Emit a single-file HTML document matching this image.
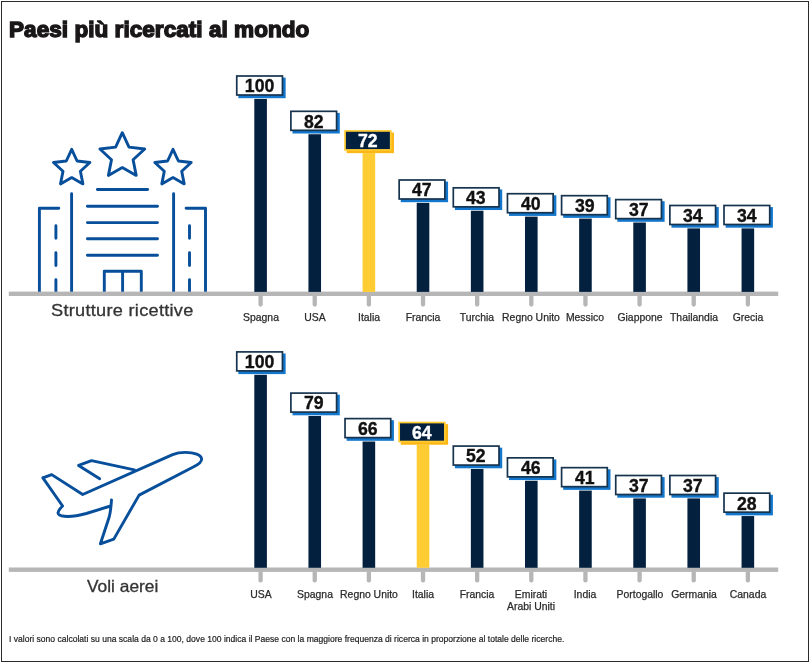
<!DOCTYPE html>
<html lang="it"><head><meta charset="utf-8"><title>Paesi più ricercati al mondo</title>
<style>
html,body{margin:0;padding:0;background:#fff}
body{width:810px;height:663px;position:relative;overflow:hidden;font-family:"Liberation Sans", sans-serif;}
.frame{position:absolute;left:1px;top:1px;width:806px;height:659px;border:1px solid #2b2b2b}
h1{position:absolute;left:8.8px;top:16.9px;margin:0;font-size:22px;line-height:26px;transform:scaleX(1.024);font-weight:bold;color:#1a1718;white-space:nowrap;-webkit-text-stroke:1.4px #1a1718;letter-spacing:0.04px;transform-origin:0 0}
.box{position:absolute;box-sizing:border-box;width:47.3px;height:20.6px;border:1.5px solid transparent;text-align:center;color:#111;font-weight:bold;font-size:17.5px;line-height:17.6px;-webkit-text-stroke:0.35px}
.box span{display:inline-block;transform:scaleX(1.01);position:relative;top:2.2px}
.box.hl{color:#fff}
.lab{position:absolute;width:80px;text-align:center;font-size:10.1px;line-height:11.85px;color:#2b2b2b;white-space:nowrap;transform:scaleX(1.03);-webkit-text-stroke:0.25px #2b2b2b}
.cat{position:absolute;font-size:16.5px;line-height:18px;color:#333;white-space:nowrap;transform-origin:0 0;-webkit-text-stroke:0.3px #333}
.note{position:absolute;left:9px;top:633.9px;font-size:9.1px;transform:scaleX(0.9405);-webkit-text-stroke:0.2px #222;line-height:11px;color:#222;white-space:nowrap;transform-origin:0 0}
.ico{position:absolute;overflow:visible}
</style></head><body>
<div class="frame"></div>
<h1>Paesi più ricercati al mondo</h1>
<svg class="ico" style="left:0;top:0" width="810" height="663" viewBox="0 0 810 663" fill="none" stroke="#074e9b" stroke-width="2.9" stroke-linejoin="round" stroke-linecap="round">
<path d="M71.7,149.3 L77.1,161.0 L89.9,162.5 L80.4,171.2 L82.9,183.9 L71.7,177.6 L60.5,183.9 L63.0,171.2 L53.5,162.5 L66.3,161.0Z"/>
<path d="M122.3,132.7 L129.0,147.1 L144.7,149.0 L133.1,159.8 L136.2,175.4 L122.3,167.6 L108.4,175.4 L111.5,159.8 L99.9,149.0 L115.6,147.1Z"/>
<path d="M173.0,149.3 L178.4,161.0 L191.2,162.5 L181.7,171.2 L184.2,183.9 L173.0,177.6 L161.8,183.9 L164.3,171.2 L154.8,162.5 L167.6,161.0Z"/>
<path d="M97.4,189.5H147.6"/>
<path d="M87.4,206.2H157.5M87.4,222.6H157.5M87.4,238.8H157.5M87.4,255.3H157.5"/>
<path d="M71.6,193.8V292M173.6,193.8V292"/>
<path d="M39.4,292V208.3H58.8M205.5,292V208.3H186.1"/>
<path d="M55.9,225.7V238.2M55.9,252.7V265.5M55.9,279.6V292M189.5,225.7V238.2M189.5,252.7V265.5M189.5,279.6V292"/>
<path d="M104.3,292V271.3H141.3V292M122.6,271.3V292"/>
</svg>
<svg class="ico" style="left:0;top:0" width="810" height="663" viewBox="0 0 810 663" fill="none" stroke="#074e9b" stroke-width="2.9" stroke-linejoin="round" stroke-linecap="round">
<path d="M42.9,477.8 L51.7,474.6 L82.7,494.5 L172.6,454.7 C177,452.8 181,452.4 185.4,452.4 C194,452.4 201.6,454.5 201.6,459.2 C201.6,462.5 198,464.6 193.7,466.8 L139.1,495.1 L113.8,539.1 L100.4,543.8 L109.2,517 Q110.8,511 111.5,499.9 M110.6,506 L86.3,513.5 C78,515.8 70,516.8 64.5,516.3 C60,515.8 57.8,514.5 58.1,512.6 C58.3,510.5 60,508.5 62.6,506 L42.9,477.8"/>
<path d="M134.4,469.8 L91.5,460.7 L78.6,465.4 L99.7,478.7"/>
</svg>
<svg class="ico" style="left:0;top:0" width="810" height="663" viewBox="0 0 810 663"><rect x="8.8" y="291.6" width="769.4" height="4.4" fill="#b6b6b6"/>
<rect x="254.30" y="98.90" width="12.6" height="193.00" fill="#03213f"/>
<path d="M258.45,295.6v8.9a2.15,2.15 0 0 0 4.3,0v-8.9z" fill="#b6b6b6"/>
<rect x="238.35" y="77.60" width="47.3" height="20.6" fill="#1377cd"/>
<rect x="236.75" y="76.00" width="45.699999999999996" height="19.0" fill="#fff" stroke="#17344f" stroke-width="1.7"/>
<rect x="308.44" y="134.22" width="12.6" height="157.68" fill="#03213f"/>
<path d="M312.59,295.6v8.9a2.15,2.15 0 0 0 4.3,0v-8.9z" fill="#b6b6b6"/>
<rect x="292.49" y="112.92" width="47.3" height="20.6" fill="#1377cd"/>
<rect x="290.89" y="111.32" width="45.699999999999996" height="19.0" fill="#fff" stroke="#17344f" stroke-width="1.7"/>
<rect x="362.58" y="153.14" width="12.6" height="138.76" fill="#ffcc33"/>
<path d="M366.73,295.6v8.9a2.15,2.15 0 0 0 4.3,0v-8.9z" fill="#b6b6b6"/>
<rect x="346.63" y="132.54" width="47.3" height="20.6" fill="#fdb714"/>
<rect x="345.03" y="130.94" width="45.699999999999996" height="19.0" fill="#03213f" stroke="#ffcc33" stroke-width="1.7"/>
<rect x="416.72" y="202.89" width="12.6" height="89.01" fill="#03213f"/>
<path d="M420.87,295.6v8.9a2.15,2.15 0 0 0 4.3,0v-8.9z" fill="#b6b6b6"/>
<rect x="400.77" y="181.59" width="47.3" height="20.6" fill="#1377cd"/>
<rect x="399.17" y="179.99" width="45.699999999999996" height="19.0" fill="#fff" stroke="#17344f" stroke-width="1.7"/>
<rect x="470.86" y="210.73" width="12.6" height="81.17" fill="#03213f"/>
<path d="M475.01,295.6v8.9a2.15,2.15 0 0 0 4.3,0v-8.9z" fill="#b6b6b6"/>
<rect x="454.91" y="189.43" width="47.3" height="20.6" fill="#1377cd"/>
<rect x="453.31" y="187.83" width="45.699999999999996" height="19.0" fill="#fff" stroke="#17344f" stroke-width="1.7"/>
<rect x="525.00" y="216.62" width="12.6" height="75.28" fill="#03213f"/>
<path d="M529.15,295.6v8.9a2.15,2.15 0 0 0 4.3,0v-8.9z" fill="#b6b6b6"/>
<rect x="509.05" y="195.32" width="47.3" height="20.6" fill="#1377cd"/>
<rect x="507.45" y="193.72" width="45.699999999999996" height="19.0" fill="#fff" stroke="#17344f" stroke-width="1.7"/>
<rect x="579.14" y="218.58" width="12.6" height="73.32" fill="#03213f"/>
<path d="M583.29,295.6v8.9a2.15,2.15 0 0 0 4.3,0v-8.9z" fill="#b6b6b6"/>
<rect x="563.19" y="197.28" width="47.3" height="20.6" fill="#1377cd"/>
<rect x="561.59" y="195.68" width="45.699999999999996" height="19.0" fill="#fff" stroke="#17344f" stroke-width="1.7"/>
<rect x="633.28" y="222.51" width="12.6" height="69.39" fill="#03213f"/>
<path d="M637.43,295.6v8.9a2.15,2.15 0 0 0 4.3,0v-8.9z" fill="#b6b6b6"/>
<rect x="617.33" y="201.21" width="47.3" height="20.6" fill="#1377cd"/>
<rect x="615.73" y="199.61" width="45.699999999999996" height="19.0" fill="#fff" stroke="#17344f" stroke-width="1.7"/>
<rect x="687.42" y="228.39" width="12.6" height="63.51" fill="#03213f"/>
<path d="M691.57,295.6v8.9a2.15,2.15 0 0 0 4.3,0v-8.9z" fill="#b6b6b6"/>
<rect x="671.47" y="207.09" width="47.3" height="20.6" fill="#1377cd"/>
<rect x="669.87" y="205.49" width="45.699999999999996" height="19.0" fill="#fff" stroke="#17344f" stroke-width="1.7"/>
<rect x="741.56" y="228.39" width="12.6" height="63.51" fill="#03213f"/>
<path d="M745.71,295.6v8.9a2.15,2.15 0 0 0 4.3,0v-8.9z" fill="#b6b6b6"/>
<rect x="725.61" y="207.09" width="47.3" height="20.6" fill="#1377cd"/>
<rect x="724.01" y="205.49" width="45.699999999999996" height="19.0" fill="#fff" stroke="#17344f" stroke-width="1.7"/></svg>
<div class="box " style="left:235.95px;top:75.20px"><span>100</span></div>
<div class="lab" style="left:220.60px;top:312.2px">Spagna</div>
<div class="box " style="left:290.09px;top:110.52px"><span>82</span></div>
<div class="lab" style="left:274.74px;top:312.2px">USA</div>
<div class="box hl" style="left:344.23px;top:130.14px"><span>72</span></div>
<div class="lab" style="left:328.88px;top:312.2px">Italia</div>
<div class="box " style="left:398.37px;top:179.19px"><span>47</span></div>
<div class="lab" style="left:383.02px;top:312.2px">Francia</div>
<div class="box " style="left:452.51px;top:187.03px"><span>43</span></div>
<div class="lab" style="left:437.16px;top:312.2px">Turchia</div>
<div class="box " style="left:506.65px;top:192.92px"><span>40</span></div>
<div class="lab" style="left:491.30px;top:312.2px">Regno Unito</div>
<div class="box " style="left:560.79px;top:194.88px"><span>39</span></div>
<div class="lab" style="left:545.44px;top:312.2px">Messico</div>
<div class="box " style="left:614.93px;top:198.81px"><span>37</span></div>
<div class="lab" style="left:599.58px;top:312.2px">Giappone</div>
<div class="box " style="left:669.07px;top:204.69px"><span>34</span></div>
<div class="lab" style="left:653.72px;top:312.2px">Thailandia</div>
<div class="box " style="left:723.21px;top:204.69px"><span>34</span></div>
<div class="lab" style="left:707.86px;top:312.2px">Grecia</div>
<div class="cat" id="cat1" style="left:51px;top:300.5px;letter-spacing:0.26px;transform:scaleX(1.1)">Strutture ricettive</div>
<svg class="ico" style="left:0;top:0" width="810" height="663" viewBox="0 0 810 663"><rect x="8.8" y="567.5" width="769.4" height="4.4" fill="#b6b6b6"/>
<rect x="254.30" y="374.80" width="12.6" height="193.00" fill="#03213f"/>
<path d="M258.45,571.5v8.9a2.15,2.15 0 0 0 4.3,0v-8.9z" fill="#b6b6b6"/>
<rect x="238.35" y="353.50" width="47.3" height="20.6" fill="#1377cd"/>
<rect x="236.75" y="351.90" width="45.699999999999996" height="19.0" fill="#fff" stroke="#17344f" stroke-width="1.7"/>
<rect x="308.44" y="416.00" width="12.6" height="151.80" fill="#03213f"/>
<path d="M312.59,571.5v8.9a2.15,2.15 0 0 0 4.3,0v-8.9z" fill="#b6b6b6"/>
<rect x="292.49" y="394.70" width="47.3" height="20.6" fill="#1377cd"/>
<rect x="290.89" y="393.10" width="45.699999999999996" height="19.0" fill="#fff" stroke="#17344f" stroke-width="1.7"/>
<rect x="362.58" y="441.51" width="12.6" height="126.29" fill="#03213f"/>
<path d="M366.73,571.5v8.9a2.15,2.15 0 0 0 4.3,0v-8.9z" fill="#b6b6b6"/>
<rect x="346.63" y="420.21" width="47.3" height="20.6" fill="#1377cd"/>
<rect x="345.03" y="418.61" width="45.699999999999996" height="19.0" fill="#fff" stroke="#17344f" stroke-width="1.7"/>
<rect x="416.72" y="444.73" width="12.6" height="123.07" fill="#ffcc33"/>
<path d="M420.87,571.5v8.9a2.15,2.15 0 0 0 4.3,0v-8.9z" fill="#b6b6b6"/>
<rect x="400.77" y="424.13" width="47.3" height="20.6" fill="#fdb714"/>
<rect x="399.17" y="422.53" width="45.699999999999996" height="19.0" fill="#03213f" stroke="#ffcc33" stroke-width="1.7"/>
<rect x="470.86" y="468.98" width="12.6" height="98.82" fill="#03213f"/>
<path d="M475.01,571.5v8.9a2.15,2.15 0 0 0 4.3,0v-8.9z" fill="#b6b6b6"/>
<rect x="454.91" y="447.68" width="47.3" height="20.6" fill="#1377cd"/>
<rect x="453.31" y="446.08" width="45.699999999999996" height="19.0" fill="#fff" stroke="#17344f" stroke-width="1.7"/>
<rect x="525.00" y="480.75" width="12.6" height="87.05" fill="#03213f"/>
<path d="M529.15,571.5v8.9a2.15,2.15 0 0 0 4.3,0v-8.9z" fill="#b6b6b6"/>
<rect x="509.05" y="459.45" width="47.3" height="20.6" fill="#1377cd"/>
<rect x="507.45" y="457.85" width="45.699999999999996" height="19.0" fill="#fff" stroke="#17344f" stroke-width="1.7"/>
<rect x="579.14" y="490.56" width="12.6" height="77.24" fill="#03213f"/>
<path d="M583.29,571.5v8.9a2.15,2.15 0 0 0 4.3,0v-8.9z" fill="#b6b6b6"/>
<rect x="563.19" y="469.26" width="47.3" height="20.6" fill="#1377cd"/>
<rect x="561.59" y="467.66" width="45.699999999999996" height="19.0" fill="#fff" stroke="#17344f" stroke-width="1.7"/>
<rect x="633.28" y="498.41" width="12.6" height="69.39" fill="#03213f"/>
<path d="M637.43,571.5v8.9a2.15,2.15 0 0 0 4.3,0v-8.9z" fill="#b6b6b6"/>
<rect x="617.33" y="477.11" width="47.3" height="20.6" fill="#1377cd"/>
<rect x="615.73" y="475.51" width="45.699999999999996" height="19.0" fill="#fff" stroke="#17344f" stroke-width="1.7"/>
<rect x="687.42" y="498.41" width="12.6" height="69.39" fill="#03213f"/>
<path d="M691.57,571.5v8.9a2.15,2.15 0 0 0 4.3,0v-8.9z" fill="#b6b6b6"/>
<rect x="671.47" y="477.11" width="47.3" height="20.6" fill="#1377cd"/>
<rect x="669.87" y="475.51" width="45.699999999999996" height="19.0" fill="#fff" stroke="#17344f" stroke-width="1.7"/>
<rect x="741.56" y="516.06" width="12.6" height="51.74" fill="#03213f"/>
<path d="M745.71,571.5v8.9a2.15,2.15 0 0 0 4.3,0v-8.9z" fill="#b6b6b6"/>
<rect x="725.61" y="494.76" width="47.3" height="20.6" fill="#1377cd"/>
<rect x="724.01" y="493.16" width="45.699999999999996" height="19.0" fill="#fff" stroke="#17344f" stroke-width="1.7"/></svg>
<div class="box " style="left:235.95px;top:351.10px"><span>100</span></div>
<div class="lab" style="left:220.60px;top:589.0px">USA</div>
<div class="box " style="left:290.09px;top:392.30px"><span>79</span></div>
<div class="lab" style="left:274.74px;top:589.0px">Spagna</div>
<div class="box " style="left:344.23px;top:417.81px"><span>66</span></div>
<div class="lab" style="left:328.88px;top:589.0px">Regno Unito</div>
<div class="box hl" style="left:398.37px;top:421.73px"><span>64</span></div>
<div class="lab" style="left:383.02px;top:589.0px">Italia</div>
<div class="box " style="left:452.51px;top:445.28px"><span>52</span></div>
<div class="lab" style="left:437.16px;top:589.0px">Francia</div>
<div class="box " style="left:506.65px;top:457.05px"><span>46</span></div>
<div class="lab" style="left:491.30px;top:589.0px">Emirati<br>Arabi Uniti</div>
<div class="box " style="left:560.79px;top:466.86px"><span>41</span></div>
<div class="lab" style="left:545.44px;top:589.0px">India</div>
<div class="box " style="left:614.93px;top:474.71px"><span>37</span></div>
<div class="lab" style="left:599.58px;top:589.0px">Portogallo</div>
<div class="box " style="left:669.07px;top:474.71px"><span>37</span></div>
<div class="lab" style="left:653.72px;top:589.0px">Germania</div>
<div class="box " style="left:723.21px;top:492.36px"><span>28</span></div>
<div class="lab" style="left:707.86px;top:589.0px">Canada</div>
<div class="cat" id="cat2" style="left:87px;top:576.8px;transform:scaleX(1.05)">Voli aerei</div>
<div class="note" id="note">I valori sono calcolati su una scala da 0 a 100, dove 100 indica il Paese con la maggiore frequenza di ricerca in proporzione al totale delle ricerche.</div>
</body></html>
